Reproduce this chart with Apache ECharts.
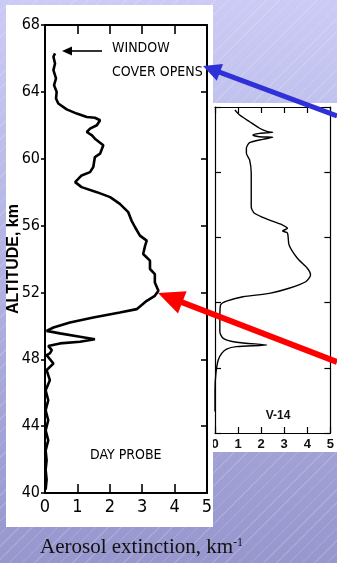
<!DOCTYPE html>
<html>
<head>
<meta charset="utf-8">
<script src="https://cdn.jsdelivr.net/npm/echarts@6/dist/echarts.min.js"></script>
<style>
html, body { margin: 0; padding: 0; width: 337px; height: 563px; overflow: hidden; }
body {
  background:
    repeating-linear-gradient(135deg, rgba(255,255,255,0) 0 8px, rgba(255,255,255,0.16) 8px 9px),
    linear-gradient(#cbcbf5, #9797ce);
}
#chart { width: 337px; height: 563px; }
</style>
</head>
<body>
<div id="chart"></div>
<script>
// day probe profile (left panel), top to bottom
const dayAlt = [66.3, 66.1, 65.7, 65.3, 64.8, 64.4, 64.0, 63.6, 63.3, 62.95, 62.7, 62.5, 62.45, 62.3, 62.0, 61.8, 61.6,
  61.4, 61.2, 60.8, 60.3, 60.1, 59.5, 59.2, 59.0, 58.6, 58.3, 58.0, 57.7, 57.3, 56.8, 56.3, 55.9, 55.4, 55.1, 54.8,
  54.3, 53.9, 53.4, 53.1, 52.6, 52.1, 51.8, 51.5, 51.0, 50.8, 50.5, 50.2, 49.9, 49.7, 49.55, 49.35, 49.2, 49.05,
  48.95, 48.8, 48.55, 48.35, 48.25, 47.75, 47.35, 46.75, 46.15, 45.55, 44.95, 44.35, 43.75, 43.15, 42.55, 41.95,
  41.4, 40.8, 40.2];
const dayExt = [0.31, 0.26, 0.31, 0.26, 0.34, 0.28, 0.36, 0.34, 0.41, 0.67, 0.98, 1.29, 1.54, 1.70, 1.60, 1.39, 1.29,
  1.45, 1.54, 1.80, 1.70, 1.54, 1.49, 1.39, 1.13, 0.93, 1.13, 1.60, 2.01, 2.31, 2.57, 2.67, 2.78, 2.93, 3.14, 3.09,
  3.03, 3.24, 3.24, 3.39, 3.39, 3.50, 3.39, 3.14, 2.83, 2.31, 1.49, 0.77, 0.26, 0.05, 0.46, 1.08, 1.54, 1.08,
  0.46, 0.10, 0.21, 0.15, 0.05, 0.26, 0.05, 0.15, 0.02, 0.10, 0.02, 0.10, 0.02, 0.10, 0.02, 0.05,
  0.02, 0.05, 0.02];

// V-14 profile (right panel)
const v14Alt = [69.77, 69.39, 68.87, 68.37, 68.11, 68.06, 67.98, 67.85, 67.72, 67.68, 67.52, 67.26, 66.83, 66.45,
  65.94, 64.92, 63.38, 62.35, 61.85, 61.33, 60.95, 60.70, 60.49, 60.34, 59.42, 58.40, 57.63, 57.12, 56.60, 56.10,
  55.71, 55.45, 55.12, 54.82, 53.80, 52.77, 52.26, 51.96, 51.75, 51.62, 51.44, 51.11, 50.60, 49.58, 48.30, 47.02, 46.64];
const v14Ext = [0.86, 1.07, 1.50, 1.93, 2.28, 2.50, 1.93, 1.64, 1.93, 2.50, 2.07, 1.50, 1.36, 1.36,
  1.50, 1.57, 1.57, 1.57, 1.71, 2.36, 2.93, 3.14, 2.93, 3.14, 3.21, 3.57, 4.00, 4.14, 3.93, 3.21,
  2.36, 1.21, 0.50, 0.24, 0.21, 0.21, 0.36, 0.93, 2.24, 0.93, 0.50, 0.29, 0.14, 0.04, 0.0, 0.0, 0.0];

const extTicks = [0, 1, 2, 3, 4, 5];
const dayAltTicks = [40, 44, 48, 52, 56, 60, 64, 68];

const NARROW = "'Liberation Sans Narrow','DejaVu Sans Condensed',sans-serif";

const chart = echarts.init(document.getElementById('chart'));

function frameAxis(grid, pos, extra) {
  return Object.assign({
    gridIndex: grid, position: pos, type: 'value',
    axisLine: { show: true, onZero: false, lineStyle: { color: '#000', width: grid === 0 ? 2 : 1.2 } },
    axisTick: { show: true, inside: true, length: 6, lineStyle: { color: '#000', width: grid === 0 ? 1.6 : 1.2 } },
    axisLabel: { show: false },
    splitLine: { show: false },
    z: grid === 0 ? 4 : 1
  }, extra);
}

chart.setOption({
  animation: false,
  grid: [
    { left: 45, top: 25, width: 162, height: 468 },
    { left: 215, top: 107, width: 117, height: 326 }
  ],
  xAxis: [
    frameAxis(0, 'bottom', {
      min: extTicks[0], max: extTicks[extTicks.length - 1], interval: 1,
      axisTick: { show: true, inside: true, length: 9, lineStyle: { color: '#000', width: 1.6 } },
      axisLabel: { show: true, margin: 5, fontSize: 18, fontFamily: NARROW, color: '#000' }
    }),
    frameAxis(0, 'top', { min: 0, max: 5, interval: 1,
      axisTick: { show: true, inside: true, length: 9, lineStyle: { color: '#000', width: 1.6 } } }),
    frameAxis(1, 'bottom', {
      min: 0, max: 5, interval: 1,
      axisLabel: { show: true, margin: 5, fontSize: 13, fontWeight: 'bold', fontFamily: 'Liberation Sans', color: '#111' }
    }),
    frameAxis(1, 'top', { min: 0, max: 5, interval: 1 })
  ],
  yAxis: [
    frameAxis(0, 'left', {
      min: dayAltTicks[0], max: dayAltTicks[dayAltTicks.length - 1], interval: 4,
      axisTick: { show: true, inside: false, length: 4, lineStyle: { color: '#000', width: 1.6 } },
      axisLabel: { show: true, margin: 5, fontSize: 16, fontFamily: NARROW, color: '#000' },
      name: 'ALTITUDE, km', nameLocation: 'middle', nameGap: 23, nameMoveOverlap: false,
      nameTextStyle: { fontSize: 16, fontWeight: 'bold', fontFamily: 'Liberation Sans', color: '#000' }
    }),
    frameAxis(0, 'right', { min: 40, max: 68, interval: 4 }),
    frameAxis(1, 'left', { min: 45, max: 70, interval: 5 }),
    frameAxis(1, 'right', { min: 45, max: 70, interval: 5 })
  ],
  series: [
    {
      type: 'line', xAxisIndex: 0, yAxisIndex: 0, z: 5,
      data: dayExt.map((x, i) => [x, dayAlt[i]]),
      showSymbol: false, lineStyle: { color: '#000', width: 2.6 }
    },
    {
      type: 'line', xAxisIndex: 2, yAxisIndex: 2, z: 2, smooth: 0.25,
      data: v14Ext.map((x, i) => [x, v14Alt[i]]),
      showSymbol: false, lineStyle: { color: '#000', width: 1.4 }
    }
  ],
  graphic: [
    { type: 'rect', z: 0, shape: { x: 213, y: 103, width: 124, height: 349 }, style: { fill: '#fff' } },
    { type: 'rect', z: 3, shape: { x: 6, y: 5, width: 207, height: 522 }, style: { fill: '#fff' } },
    { type: 'text', z: 6, x: 112, y: 48, style: { text: 'WINDOW', fontSize: 14, fontFamily: NARROW, fill: '#000', verticalAlign: 'middle' } },
    { type: 'text', z: 6, x: 112, y: 72, style: { text: 'COVER OPENS', fontSize: 14, fontFamily: NARROW, fill: '#000', verticalAlign: 'middle' } },
    { type: 'line', z: 6, shape: { x1: 102, y1: 51, x2: 70, y2: 51 }, style: { stroke: '#000', lineWidth: 1.6 } },
    { type: 'polygon', z: 6, shape: { points: [[62, 51], [72, 46.5], [72, 55.5]] }, style: { fill: '#000' } },
    { type: 'text', z: 6, x: 90, y: 455, style: { text: 'DAY PROBE', fontSize: 14, fontFamily: NARROW, fill: '#000', verticalAlign: 'middle' } },
    { type: 'text', z: 2, x: 278, y: 416, style: { text: 'V-14', fontSize: 12, fontWeight: 'bold', fontFamily: 'Liberation Sans', fill: '#111', align: 'center', verticalAlign: 'middle' } },
    {
      type: 'text', z: 6, x: 40, y: 547,
      style: {
        text: '{a|Aerosol extinction, km}{s|-1}', verticalAlign: 'middle',
        rich: {
          a: { fontSize: 21, fontFamily: "'Liberation Serif',serif", fill: '#111' },
          s: { fontSize: 12, fontFamily: "'Liberation Serif',serif", fill: '#111', verticalAlign: 'top' }
        }
      }
    },
    // blue arrow
    { type: 'line', z: 10, shape: { x1: 337, y1: 116, x2: 218, y2: 71.7 }, style: { stroke: '#3030d8', lineWidth: 5 } },
    { type: 'polygon', z: 10, shape: { points: [[203, 66], [216.8, 80.7], [223, 63.9]] }, style: { fill: '#3030d8' } },
    // red arrow
    { type: 'line', z: 10, shape: { x1: 337, y1: 362, x2: 180, y2: 301.5 }, style: { stroke: '#ff0000', lineWidth: 6 } },
    { type: 'polygon', z: 10, shape: { points: [[158, 293], [178, 313.6], [186.6, 291.2]] }, style: { fill: '#ff0000' } }
  ]
});
</script>
</body>
</html>
